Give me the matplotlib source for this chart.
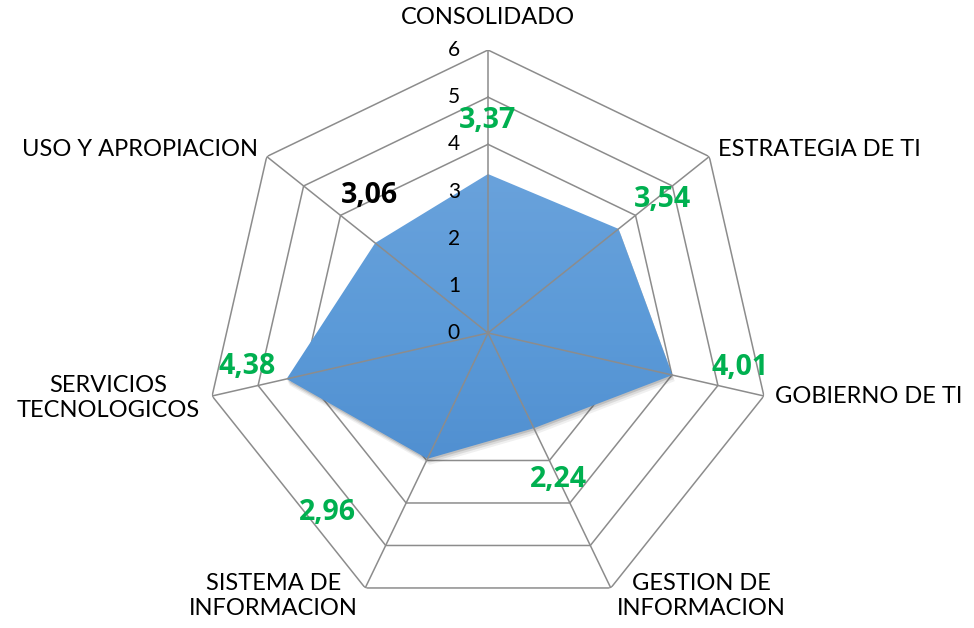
import numpy as np
import matplotlib
matplotlib.use('Agg')
import matplotlib.pyplot as plt
from matplotlib.colors import LinearSegmentedColormap
from matplotlib.transforms import ScaledTranslation

plt.rcParams['font.family'] = ['Lato', 'DejaVu Sans']

categories = ['CONSOLIDADO', 'ESTRATEGIA DE TI', 'GOBIERNO DE TI',
              'GESTION DE\nINFORMACION', 'SISTEMA DE\nINFORMACION',
              'SERVICIOS\nTECNOLOGICOS', 'USO Y APROPIACION']
values = [3.37, 3.54, 4.01, 2.24, 2.96, 4.38, 3.06]
label_colors = ['#00B050'] * 6 + ['#000000']
rticks = [0, 1, 2, 3, 4, 5, 6]

# label placement (pixel offsets from the point)
cat_offsets = [(0, 32, 'center'), (9, 7, 'left'), (11, -1, 'left'),
               (6, -8, 'left'), (-7, -8, 'right'), (-12, -2, 'right'),
               (-9, 7, 'right')]
val_offsets = [(0, 54), (44, 29), (68, 8), (25, -51), (-100, -54),
               (-39, 12), (-6, 48)]

n = len(categories)
theta = np.arange(n) * 2 * np.pi / n
theta_c = np.append(theta, theta[0])
vals_c = np.append(values, values[0])
rmax = rticks[-1]
grid_col = '#8c8c8c'

fig = plt.figure(figsize=(9.74, 6.28), dpi=100)
ax = fig.add_axes([205 / 974, 12 / 628, 566 / 974, 566 / 628], projection='polar')
ax.set_theta_zero_location('N')
ax.set_theta_direction(-1)
ax.grid(False)
ax.spines['polar'].set_visible(False)
ax.set_xticks([])
ax.set_yticks([])
ax.patch.set_visible(False)

# polygon rings
for r in rticks[1:]:
    ax.plot(theta_c, [r] * (n + 1), color=grid_col, lw=1.1, zorder=1)

# soft shadow
for k, a in zip([6, 4, 2], [0.08, 0.12, 0.18]):
    off = ScaledTranslation(k * 0.4 / 100, -k / 100, fig.dpi_scale_trans)
    ax.fill(theta_c, vals_c, color='#404040', alpha=a, lw=0,
            transform=ax.transData + off, zorder=2)

# gradient fill
poly = ax.fill(theta_c, vals_c, facecolor='none', edgecolor='none', zorder=3)[0]
cmap = LinearSegmentedColormap.from_list('blu', ['#4483c8', '#5b9ad8', '#74a8de'])
grad = np.linspace(0, 1, 256).reshape(-1, 1)
im = ax.imshow(grad, cmap=cmap, extent=(0, 1, 0, 1), origin='lower',
               transform=ax.transAxes, aspect='auto', zorder=3)
im.set_clip_path(poly)

# spokes
for t in theta:
    ax.plot([t, t], [0, rmax], color=grid_col, lw=1.1, zorder=4)

ax.set_xlim(0, 2 * np.pi)
ax.set_ylim(0, rmax)

# radial tick labels
for r in rticks:
    ax.annotate(str(r), (0, r), xytext=(-28, 0), textcoords='offset pixels',
                ha='right', va='center', fontsize=15, zorder=6)

# category labels
for t, name, (dx, dy, ha) in zip(theta, categories, cat_offsets):
    ax.annotate(name, (t, rmax), xytext=(dx, dy), textcoords='offset pixels',
                ha=ha, va='center', multialignment='center', fontsize=17,
                annotation_clip=False, zorder=6)

# value labels
for t, v, c, (dx, dy) in zip(theta, values, label_colors, val_offsets):
    ax.annotate(f'{v:.2f}'.replace('.', ','), (t, v), xytext=(dx, dy),
                textcoords='offset pixels', ha='center', va='center',
                family=['Open Sans', 'DejaVu Sans'], fontsize=20.5,
                fontweight='bold', color=c, zorder=6)

fig.savefig('out.png', dpi=100)
